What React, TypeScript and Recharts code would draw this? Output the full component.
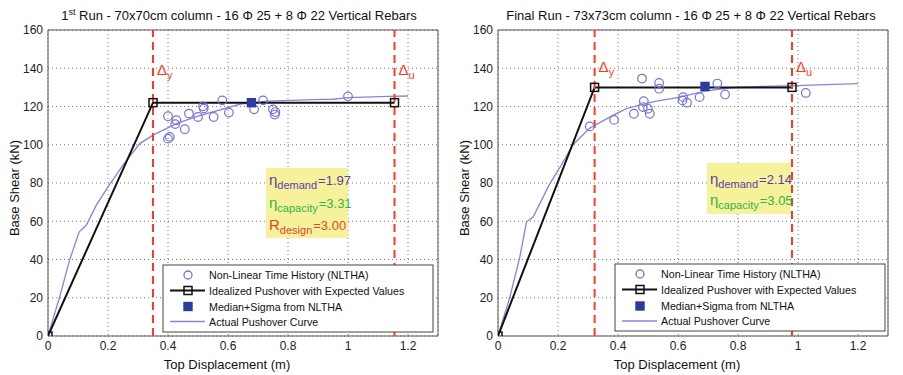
import React from "react"
import {
  ComposedChart,
  Line,
  Scatter,
  XAxis,
  YAxis,
  CartesianGrid,
  ReferenceLine,
  ReferenceArea,
} from "recharts"

const FONT = '"Liberation Sans", Arial, Helvetica, sans-serif'

const X_TICKS = [0, 0.2, 0.4, 0.6, 0.8, 1, 1.2]
const Y_TICKS = [0, 20, 40, 60, 80, 100, 120, 140, 160]

// 1st run - 70x70cm column
const run1Pushover = [
  { x: 0, y: 0 }, { x: 0.039, y: 20.5 }, { x: 0.072, y: 39.7 }, { x: 0.104, y: 54.5 },
  { x: 0.128, y: 58 }, { x: 0.161, y: 68.4 }, { x: 0.2, y: 78 }, { x: 0.25, y: 89.3 },
  { x: 0.306, y: 100.6 }, { x: 0.35, y: 105 }, { x: 0.428, y: 111 }, { x: 0.5, y: 115 },
  { x: 0.642, y: 121.3 }, { x: 0.73, y: 122.8 }, { x: 0.887, y: 123.6 }, { x: 0.95, y: 123.8 },
  { x: 1.0, y: 124.6 }, { x: 1.135, y: 125.3 }, { x: 1.2, y: 125.5 },
]
const run1Ideal = [{ x: 0, y: 0 }, { x: 0.35, y: 122 }, { x: 1.155, y: 122 }]
const run1Nltha = [
  { x: 0.4, y: 114.9 }, { x: 0.406, y: 104.1 }, { x: 0.4, y: 103.2 }, { x: 0.428, y: 112.8 },
  { x: 0.424, y: 110.8 }, { x: 0.456, y: 108.1 }, { x: 0.47, y: 116.3 }, { x: 0.5, y: 114.5 },
  { x: 0.517, y: 120.1 }, { x: 0.519, y: 118.9 }, { x: 0.552, y: 114.5 }, { x: 0.581, y: 123.2 },
  { x: 0.603, y: 116.8 }, { x: 0.687, y: 118.5 }, { x: 0.717, y: 123.2 }, { x: 0.75, y: 118.5 },
  { x: 0.758, y: 117.1 }, { x: 0.756, y: 115.8 }, { x: 1.0, y: 125.3 },
]
const run1Median = [{ x: 0.678, y: 122 }]
const run1Limits = [0.35, 1.155]
const run1Notes = ["1.97", "3.31", "3.00"]

// final run - 73x73cm column
const run2Pushover = [
  { x: 0, y: 0 }, { x: 0.039, y: 20.1 }, { x: 0.072, y: 40.7 }, { x: 0.095, y: 59.6 },
  { x: 0.117, y: 62.2 }, { x: 0.172, y: 79.4 }, { x: 0.206, y: 88 }, { x: 0.25, y: 100 },
  { x: 0.306, y: 108.8 }, { x: 0.35, y: 112.5 }, { x: 0.394, y: 116.3 }, { x: 0.43, y: 119 },
  { x: 0.52, y: 122.5 }, { x: 0.606, y: 124.9 }, { x: 0.69, y: 128 }, { x: 0.772, y: 129.8 },
  { x: 0.883, y: 130.5 }, { x: 0.995, y: 130.9 }, { x: 1.2, y: 132 },
]
const run2Ideal = [{ x: 0, y: 0 }, { x: 0.322, y: 130 }, { x: 0.98, y: 130 }]
const run2Nltha = [
  { x: 0.306, y: 109.6 }, { x: 0.387, y: 113 }, { x: 0.453, y: 116.2 }, { x: 0.48, y: 134.6 },
  { x: 0.486, y: 122.8 }, { x: 0.483, y: 119.7 }, { x: 0.5, y: 118.8 }, { x: 0.506, y: 116.2 },
  { x: 0.537, y: 132.3 }, { x: 0.537, y: 129.3 }, { x: 0.617, y: 124.9 }, { x: 0.615, y: 123.2 },
  { x: 0.63, y: 122 }, { x: 0.672, y: 124.9 }, { x: 0.731, y: 132 }, { x: 0.757, y: 126.3 },
  { x: 1.026, y: 127.1 },
]
const run2Median = [{ x: 0.69, y: 130.5 }]
const run2Limits = [0.322, 0.98]
const run2Notes = ["2.14", "3.05"]

const RED = "#ff3b1f"
const BLUE_LINE = "#8585e0"
const CIRCLE = "#7474d6"
const MEDIAN = "#2a3d9e"
const NOTE_COLORS = ["#5b3ea6", "#2fb34a", "#e8452a"]
const NOTE_LABELS = [["\u03b7", "demand"], ["\u03b7", "capacity"], ["R", "design"]]

function DeltaLabel({ viewBox, sub, off }: any) {
  if (!viewBox) return null
  return (
    <text x={viewBox.x + 4} y={viewBox.y + off} fill={RED} fontSize={15} fontFamily={FONT}>
      {"\u0394"}
      <tspan fontSize={11} dy={4}>{sub}</tspan>
    </text>
  )
}

const squareDot = (p: any) => (
  <rect key={`sq-${p.index}`} x={p.cx - 4} y={p.cy - 4} width={8} height={8} fill="none" stroke="#111" strokeWidth={1.5} />
)
const circleShape = (p: any) => (
  <circle cx={p.cx} cy={p.cy} r={4.3} fill="none" stroke={CIRCLE} strokeWidth={1.2} />
)
const medianShape = (p: any) => (
  <rect x={p.cx - 4.7} y={p.cy - 4.7} width={9.4} height={9.4} fill={MEDIAN} />
)

function Legend({ x, y, rows }: { x: number; y: number; rows: number[] }) {
  const sx = x + 25
  const texts = [
    "Non-Linear Time History (NLTHA)",
    "Idealized Pushover with Expected Values",
    "Median+Sigma from NLTHA",
    "Actual Pushover Curve",
  ]
  return (
    <g fontFamily={FONT} fontSize={10.7} fill="#111">
      <rect x={x} y={y} width={270} height={67} fill="#fff" stroke="#444" strokeWidth={1} />
      <circle cx={sx} cy={rows[0]} r={4} fill="none" stroke={CIRCLE} strokeWidth={1.3} />
      <line x1={sx - 18} x2={sx + 17} y1={rows[1]} y2={rows[1]} stroke="#111" strokeWidth={2} />
      <rect x={sx - 4} y={rows[1] - 4} width={8} height={8} fill="none" stroke="#111" strokeWidth={1.5} />
      <rect x={sx - 4.7} y={rows[2] - 4.7} width={9.4} height={9.4} fill={MEDIAN} />
      <line x1={sx - 18} x2={sx + 17} y1={rows[3]} y2={rows[3]} stroke={BLUE_LINE} strokeWidth={1.3} />
      {texts.map((t, i) => (
        <text key={t} x={x + 46} y={rows[i] + 4}>{t}</text>
      ))}
    </g>
  )
}

function Notes({ x, y, w, h, values, rowY }: any) {
  return (
    <g fontFamily={FONT}>
      <rect x={x} y={y} width={w} height={h} fill="#f6f29c" />
      {values.map((v: string, i: number) => (
        <text key={i} x={x + 3} y={rowY[i]} fill={NOTE_COLORS[i]} fontSize={15}>
          {NOTE_LABELS[i][0]}
          <tspan fontSize={11} dy={4}>{NOTE_LABELS[i][1]}</tspan>
          <tspan fontSize={13} dy={-4} dx={1}>{"=" + v}</tspan>
        </text>
      ))}
    </g>
  )
}

function Panel(props: any) {
  const { left, width, right, title, curve, ideal, nltha, median, limits, deltaOff, notes, noteBox, legend } = props
  return (
    <div style={{ position: "absolute", left, top: 0, width, height: 375 }}>
      <ComposedChart width={width} height={375} margin={{ top: 30, right, bottom: 0, left: 0 }}>
        <CartesianGrid stroke="#777" strokeDasharray="1 3" />
        <XAxis
          type="number"
          dataKey="x"
          domain={[0, 1.3]}
          ticks={X_TICKS}
          interval={0}
          allowDataOverflow
          tickLine={false}
          axisLine={false}
          tickSize={3}
          height={39}
          tick={{ fontSize: 12, fill: "#222", fontFamily: FONT }}
        />
        <YAxis
          type="number"
          domain={[0, 160]}
          ticks={Y_TICKS}
          interval={0}
          allowDataOverflow
          tickLine={false}
          axisLine={false}
          tickSize={3}
          width={48}
          tick={{ fontSize: 12, fill: "#222", fontFamily: FONT }}
        />
        <ReferenceArea x1={0} x2={1.3} y1={0} y2={160} fill="none" stroke="#555" strokeWidth={1} />
        <Line data={curve} dataKey="y" type="linear" stroke={BLUE_LINE} strokeWidth={1.3} dot={false} isAnimationActive={false} />
        <Line data={ideal} dataKey="y" type="linear" stroke="#111" strokeWidth={2} dot={squareDot} isAnimationActive={false} />
        <Scatter data={nltha} dataKey="y" shape={circleShape} isAnimationActive={false} />
        <Scatter data={median} dataKey="y" shape={medianShape} isAnimationActive={false} />
        <ReferenceLine x={limits[0]} stroke={RED} strokeWidth={2} strokeDasharray="8 5" label={<DeltaLabel sub="y" off={deltaOff} />} />
        <ReferenceLine x={limits[1]} stroke={RED} strokeWidth={2} strokeDasharray="8 5" label={<DeltaLabel sub="u" off={deltaOff} />} />
      </ComposedChart>
      <svg width={width} height={375} style={{ position: "absolute", left: 0, top: 0, pointerEvents: "none" }}>
        <text x={props.titleX} y={20} textAnchor="middle" fontFamily={FONT} fontSize={13} fill="#111">
          {title}
        </text>
        <text x={227} y={369} textAnchor="middle" fontFamily={FONT} fontSize={13} fill="#111">
          Top Displacement (m)
        </text>
        <text transform="translate(19,188) rotate(-90)" textAnchor="middle" fontFamily={FONT} fontSize={13} fill="#111">
          Base Shear (kN)
        </text>
        <Notes {...noteBox} values={notes} />
        <Legend {...legend} />
      </svg>
    </div>
  )
}

export default function App() {
  return (
    <div style={{ position: "relative", width: 903, height: 375, background: "#fff" }}>
      <style>{"body{margin:0}"}</style>
      <Panel
        left={0}
        width={450}
        right={12}
        titleX={239}
        title={
          <>
            1<tspan fontSize={9} dy={-5}>st</tspan>
            <tspan dy={5}> Run - 70x70cm column - 16 {"\u03a6"} 25 + 8 {"\u03a6"} 22 Vertical Rebars</tspan>
          </>
        }
        curve={run1Pushover}
        ideal={run1Ideal}
        nltha={run1Nltha}
        median={run1Median}
        limits={run1Limits}
        deltaOff={45}
        notes={run1Notes}
        noteBox={{ x: 266, y: 168, w: 82, h: 70, rowY: [185, 208, 230] }}
        legend={{ x: 163, y: 265, rows: [275, 290.5, 306.5, 321.5] }}
      />
      <Panel
        left={450}
        width={453}
        right={15}
        titleX={241}
        title={<>Final Run - 73x73cm column - 16 {"\u03a6"} 25 + 8 {"\u03a6"} 22 Vertical Rebars</>}
        curve={run2Pushover}
        ideal={run2Ideal}
        nltha={run2Nltha}
        median={run2Median}
        limits={run2Limits}
        deltaOff={42}
        notes={run2Notes}
        noteBox={{ x: 257, y: 163, w: 84, h: 51, rowY: [184, 205] }}
        legend={{ x: 165, y: 264, rows: [274, 289.5, 306, 321] }}
      />
    </div>
  )
}
